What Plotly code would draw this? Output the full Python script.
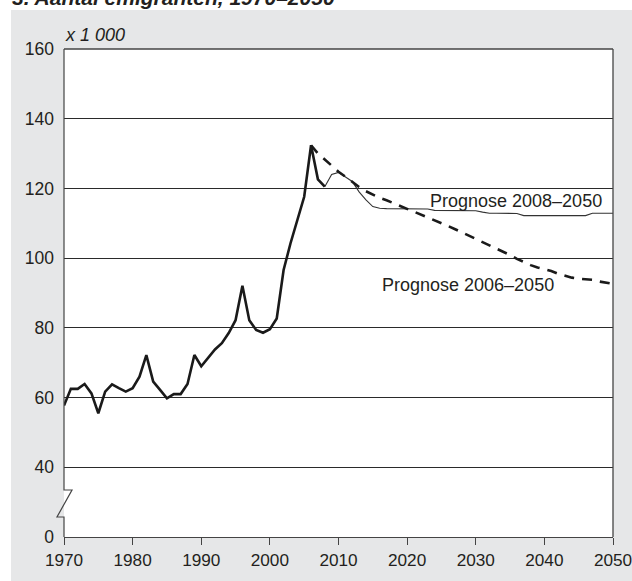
import plotly.graph_objects as go

# ---------------- data ----------------
hist_years = list(range(1970, 2009))
hist_values = [57.7, 62.5, 62.5, 63.9, 61.2, 55.5, 61.7, 63.8, 62.7, 61.7,
               62.7, 66.0, 72.2, 64.6, 62.2, 59.8, 61.0, 61.0, 63.9, 72.2,
               69.0, 71.5, 73.8, 75.6, 78.5, 82.2, 92.1, 82.2, 79.4, 78.6,
               79.6, 82.7, 96.6, 104.2, 110.9, 117.6, 132.4, 122.6, 120.5]

prog2008_years = list(range(2008, 2051))
prog2008_values = [120.5, 124.0, 124.6, 123.4, 122.0, 119.0, 116.7, 114.8, 114.3, 114.2,
                   114.2, 114.2, 114.2, 114.2, 114.2, 114.1, 113.7, 113.7, 113.7, 113.7,
                   113.7, 113.7, 113.6, 113.2, 112.9, 112.9, 112.9, 112.9, 112.8, 112.2,
                   112.2, 112.2, 112.2, 112.2, 112.2, 112.2, 112.2, 112.2, 112.2, 112.9,
                   112.9, 112.9, 112.9]

prog2006_years = list(range(2006, 2051))
prog2006_values = [132.4, 130.0, 128.3, 126.5, 124.8, 123.4, 121.9, 120.4, 119.2, 118.2,
                   117.3, 116.6, 115.8, 115.0, 114.1, 113.3, 112.4, 111.6, 110.8, 110.0,
                   109.2, 108.3, 107.4, 106.5, 105.5, 104.6, 103.8, 102.9, 101.9, 100.9,
                   99.8, 98.8, 98.0, 97.3, 96.8, 96.3, 95.5, 94.9, 94.4, 94.1,
                   94.0, 93.8, 93.3, 92.9, 92.6]

x_ticks = [1970, 1980, 1990, 2000, 2010, 2020, 2030, 2040, 2050]
y_tickvals = [20, 40, 60, 80, 100, 120, 140, 160]   # bottom position stands for the broken-axis zero
y_ticktext = ["0", "40", "60", "80", "100", "120", "140", "160"]

title_text = "3. Aantal emigranten, 1970–2050"
unit_text = "x 1 000"
label_2008 = "Prognose 2008–2050"
label_2006 = "Prognose 2006–2050"

# ---------------- figure ----------------
W, H = 632, 581
ML, MR, MT, MB = 64, 19, 49, 44
PW, PH = W - ML - MR, H - MT - MB

def px_x(p):
    return (p - ML) / PW

def px_y(p):
    return (H - MB - p) / PH

FONT = "Liberation Sans, Arial, sans-serif"
TXT = "#231f20"
GRAY_BG = "#e6e7e8"

fig = go.Figure()

fig.add_trace(go.Scatter(x=prog2008_years, y=prog2008_values, mode="lines",
                         line=dict(color="#333333", width=1.1),
                         hoverinfo="skip", showlegend=False))
fig.add_trace(go.Scatter(x=prog2006_years, y=prog2006_values, mode="lines",
                         line=dict(color="#1a1a1a", width=2.6, dash="10px,8px"),
                         hoverinfo="skip", showlegend=False))
fig.add_trace(go.Scatter(x=hist_years, y=hist_values, mode="lines",
                         line=dict(color="#1a1a1a", width=2.6),
                         hoverinfo="skip", showlegend=False))

# background: gray panel with white strips top/left
shapes = [
    dict(type="rect", xref="paper", yref="paper", layer="below",
         x0=px_x(0), x1=px_x(11), y0=px_y(H), y1=px_y(0),
         fillcolor="white", line=dict(width=0)),
    dict(type="rect", xref="paper", yref="paper", layer="below",
         x0=px_x(0), x1=px_x(W), y0=px_y(10), y1=px_y(0),
         fillcolor="white", line=dict(width=0)),
]
# left axis line with break symbol
brk_top = px_y(490)
brk_bot = px_y(517)
path = (f"M 0,1 L 0,{brk_top} L {px_x(72)},{brk_top} "
        f"L {px_x(57)},{brk_bot} L 0,{brk_bot} L 0,0")
shapes.append(dict(type="path", xref="paper", yref="paper", path=path,
                   line=dict(color="#444444", width=1.2), layer="above"))
# right/top frame
shapes.append(dict(type="line", xref="paper", yref="paper", x0=0, x1=1, y0=1, y1=1,
                   line=dict(color="#444444", width=1.3)))
shapes.append(dict(type="line", xref="paper", yref="paper", x0=1, x1=1, y0=0, y1=1,
                   line=dict(color="#444444", width=1.3)))

annotations = [
    dict(text=f"<b><i>{title_text}</i></b>", xref="paper", yref="paper",
         x=px_x(10), y=px_y(-3), xanchor="left", yanchor="middle",
         showarrow=False, font=dict(family=FONT, size=21, color=TXT)),
    dict(text=f"<i>{unit_text}</i>", xref="paper", yref="paper",
         x=px_x(63), y=px_y(35), xanchor="left", yanchor="middle",
         showarrow=False, font=dict(family=FONT, size=18, color=TXT)),
    dict(text=label_2008, xref="x", yref="y", x=2023.0, y=116.3,
         xanchor="left", yanchor="middle", showarrow=False,
         font=dict(family=FONT, size=18, color=TXT)),
    dict(text=label_2006, xref="x", yref="y", x=2016.1, y=92.4,
         xanchor="left", yanchor="middle", showarrow=False,
         font=dict(family=FONT, size=18, color=TXT)),
]

fig.update_layout(
    width=W, height=H,
    margin=dict(l=ML, r=MR, t=MT, b=MB, pad=0, autoexpand=False),
    paper_bgcolor=GRAY_BG, plot_bgcolor="white",
    shapes=shapes, annotations=annotations,
    font=dict(family=FONT, size=18, color=TXT),
    xaxis=dict(range=[1970, 2050], tickvals=x_ticks, ticks="outside",
               ticklen=7, tickcolor="#444444", tickwidth=1.2,
               showline=True, linecolor="#444444", linewidth=1.3,
               showgrid=False, zeroline=False, ticklabeloverflow="allow",
               automargin=False,
               tickfont=dict(family=FONT, size=17.2, color=TXT)),
    yaxis=dict(range=[20, 160], tickvals=y_tickvals, ticktext=y_ticktext,
               ticks="", showline=False, showgrid=True,
               gridcolor="#2a2a2a", gridwidth=1, zeroline=False,
               ticklabelstandoff=9, automargin=False,
               tickfont=dict(family=FONT, size=17.5, color=TXT)),
)

fig.write_html(
    "out.html",
    config={"displayModeBar": False},
    post_script="document.body.style.margin='0';document.body.style.padding='0';document.body.style.overflow='hidden';",
)
